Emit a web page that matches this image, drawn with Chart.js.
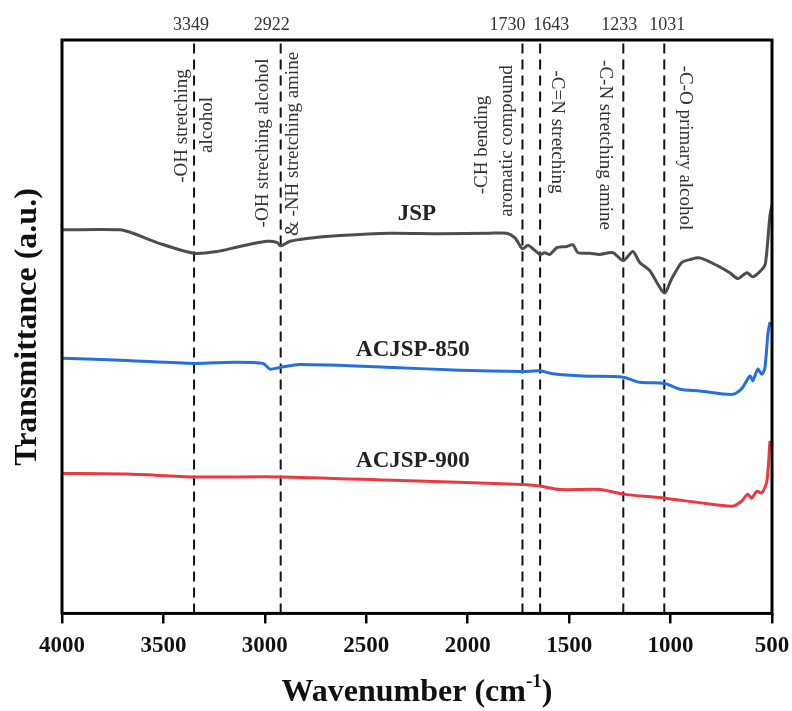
<!DOCTYPE html>
<html lang="en">
<head>
    <meta charset="UTF-8">
    <title>FTIR spectra</title>
    <script src="https://cdn.jsdelivr.net/npm/chart.js"></script>
    <style>
        body { margin: 0; background: #fff; }
        canvas { display: block; }
    </style>
</head>
<body>
    <canvas id="myChart" width="792" height="711"></canvas>

    <script>
        // wavenumber (cm-1) and transmittance (a.u., arbitrary 0-100)
        const jspWn = [4000, 3714, 3650, 3517, 3349, 3236, 3123, 2990, 2941, 2922, 2876, 2793, 2630, 2383, 2137, 1891, 1807, 1767, 1730, 1703, 1679, 1643, 1620, 1595, 1560, 1511, 1481, 1457, 1398, 1349, 1284, 1233, 1186, 1152, 1103, 1031, 994, 945, 905, 856, 772, 708, 668, 624, 594, 560, 535, 525, 510, 500];
        const jspT  = [66.9, 66.9, 66.3, 64.5, 62.8, 63.1, 64.0, 64.9, 64.7, 64.1, 64.9, 65.4, 65.9, 66.3, 66.2, 66.3, 66.3, 65.5, 63.6, 64.2, 63.6, 62.6, 62.9, 62.6, 63.8, 64.0, 64.3, 62.9, 62.8, 62.6, 62.9, 61.5, 63.1, 61.2, 59.8, 55.9, 58.4, 61.2, 61.7, 62.0, 60.7, 59.4, 58.4, 59.4, 58.7, 59.6, 60.7, 63.3, 69.4, 71.2];

        const ac850Wn = [4000, 3680, 3349, 3157, 3009, 2975, 2926, 2827, 2369, 2038, 1728, 1645, 1580, 1432, 1234, 1152, 1029, 955, 856, 694, 649, 609, 594, 570, 550, 535, 520, 510];
        const ac850T  = [44.5, 44.1, 43.6, 43.8, 43.6, 42.6, 42.9, 43.4, 42.9, 42.4, 42.2, 42.3, 41.8, 41.4, 41.2, 40.3, 40.1, 39.1, 38.8, 38.2, 39.2, 41.4, 40.6, 42.6, 41.7, 42.8, 48.8, 50.8];

        const ac900Wn = [4000, 3680, 3349, 2926, 2369, 1728, 1645, 1546, 1349, 1234, 1029, 856, 694, 649, 620, 600, 575, 550, 525, 510];
        const ac900T  = [24.4, 24.3, 23.8, 23.8, 23.2, 22.5, 22.2, 21.6, 21.6, 20.8, 20.1, 19.3, 18.7, 19.6, 20.8, 20.1, 21.3, 21.0, 23.1, 30.1];

        // marked band positions
        const peakWn = [3349, 2922, 1730, 1643, 1233, 1031];
        const peakLabelShift = [-3, -9, -15, 11, -4, 3];
        const xTicks = [4000, 3500, 3000, 2500, 2000, 1500, 1000, 500];

        const serif = "'Liberation Serif', 'Times New Roman', serif";

        function toPoints(xs, ys) {
            return xs.map((x, i) => ({ x: x, y: ys[i] }));
        }

        const dashSets = peakWn.map(wn => ({
            data: [{ x: wn, y: 0 }, { x: wn, y: 100 }],
            showLine: true,
            borderColor: '#111',
            borderWidth: 2,
            borderDash: [10, 6],
            pointRadius: 0,
            order: 5
        }));

        function curve(xs, ys, color) {
            return {
                data: toPoints(xs, ys),
                showLine: true,
                borderColor: color,
                borderWidth: 3,
                pointRadius: 0,
                tension: 0.25,
                order: 1
            };
        }

        // notes next to the dashed lines: [wavenumber, dx, y center, rotation, text]
        const notes = [
            [3349, -12, 126, -1, '-OH stretching'],
            [3349, 13, 125, -1, 'alcohol'],
            [2922, -18, 143, -1, '-OH streching alcohol'],
            [2922, 12, 144, -1, '& -NH stretching amine'],
            [1730, -40, 145, -1, '-CH bending'],
            [1730, -15, 141, -1, 'aromatic compound'],
            [1643, 17, 132, 1, '-C=N stretching'],
            [1233, -18, 145, 1, '-C-N stretching amine'],
            [1031, 21, 148, 1, '-C-O primary alcohol']
        ];

        const seriesLabels = [
            ['JSP', 2250, 69.6],
            ['ACJSP-850', 2270, 46.0],
            ['ACJSP-900', 2270, 26.6]
        ];

        const decorPlugin = {
            id: 'decor',
            afterDraw(chart) {
                const ctx = chart.ctx;
                const a = chart.chartArea;
                const xs = chart.scales.x;
                const ys = chart.scales.y;

                // frame
                ctx.save();
                ctx.strokeStyle = '#000';
                ctx.lineWidth = 3;
                ctx.strokeRect(a.left, a.top, a.right - a.left, a.bottom - a.top);

                // band numbers on top
                ctx.fillStyle = '#333';
                ctx.font = '18px ' + serif;
                ctx.textAlign = 'center';
                ctx.textBaseline = 'middle';
                peakWn.forEach((wn, i) => {
                    ctx.fillText(String(wn), xs.getPixelForValue(wn) + peakLabelShift[i], 25);
                });

                // rotated notes
                ctx.font = '19px ' + serif;
                notes.forEach(n => {
                    const px = xs.getPixelForValue(n[0]) + n[1];
                    ctx.save();
                    ctx.translate(px, n[2]);
                    ctx.rotate(n[3] * Math.PI / 2);
                    ctx.fillText(n[4], 0, 0);
                    ctx.restore();
                });

                // series names
                ctx.fillStyle = '#222';
                ctx.font = 'bold 23px ' + serif;
                seriesLabels.forEach(s => {
                    ctx.fillText(s[0], xs.getPixelForValue(s[1]), ys.getPixelForValue(s[2]));
                });

                // axis titles
                ctx.fillStyle = '#111';
                ctx.font = 'bold 32px ' + serif;
                ctx.save();
                ctx.translate(28, 327);
                ctx.rotate(-Math.PI / 2);
                ctx.fillText('Transmittance (a.u.)', 0, 0);
                ctx.restore();

                const main = 'Wavenumber (cm';
                const sup = '-1';
                const close = ')';
                ctx.font = 'bold 32px ' + serif;
                const w1 = ctx.measureText(main).width;
                const w3 = ctx.measureText(close).width;
                ctx.font = 'bold 19px ' + serif;
                const w2 = ctx.measureText(sup).width;
                const total = w1 + w2 + w3;
                const x0 = 417 - total / 2;
                const yb = 701;
                ctx.textAlign = 'left';
                ctx.textBaseline = 'alphabetic';
                ctx.font = 'bold 32px ' + serif;
                ctx.fillText(main, x0, yb);
                ctx.font = 'bold 19px ' + serif;
                ctx.fillText(sup, x0 + w1, yb - 14);
                ctx.font = 'bold 32px ' + serif;
                ctx.fillText(close, x0 + w1 + w2, yb);
                ctx.restore();
            }
        };

        const ctx = document.getElementById('myChart').getContext('2d');
        new Chart(ctx, {
            type: 'scatter',
            data: {
                datasets: [
                    ...dashSets,
                    curve(jspWn, jspT, '#4d4d4d'),
                    curve(ac850Wn, ac850T, '#2470e0'),
                    curve(ac900Wn, ac900T, '#ea3a40')
                ]
            },
            options: {
                responsive: false,
                animation: false,
                devicePixelRatio: 1,
                layout: {
                    padding: { left: 62, top: 40, right: 20, bottom: 42 }
                },
                plugins: {
                    legend: { display: false },
                    tooltip: { enabled: false }
                },
                scales: {
                    x: {
                        type: 'linear',
                        reverse: true,
                        min: 500,
                        max: 4000,
                        afterBuildTicks: scale => {
                            scale.ticks = xTicks.map(v => ({ value: v }));
                        },
                        afterFit: scale => {
                            scale.paddingLeft = 0;
                            scale.paddingRight = 0;
                        },
                        ticks: {
                            autoSkip: false,
                            maxRotation: 0,
                            padding: 9,
                            color: '#111',
                            font: { family: serif, size: 23, weight: 'bold' },
                            callback: v => String(v)
                        },
                        grid: {
                            drawOnChartArea: false,
                            drawTicks: true,
                            tickLength: 10,
                            color: '#000',
                            lineWidth: 2.5
                        },
                        border: { display: false }
                    },
                    y: {
                        display: false,
                        min: 0,
                        max: 100
                    }
                }
            },
            plugins: [decorPlugin]
        });
    </script>
</body>
</html>
